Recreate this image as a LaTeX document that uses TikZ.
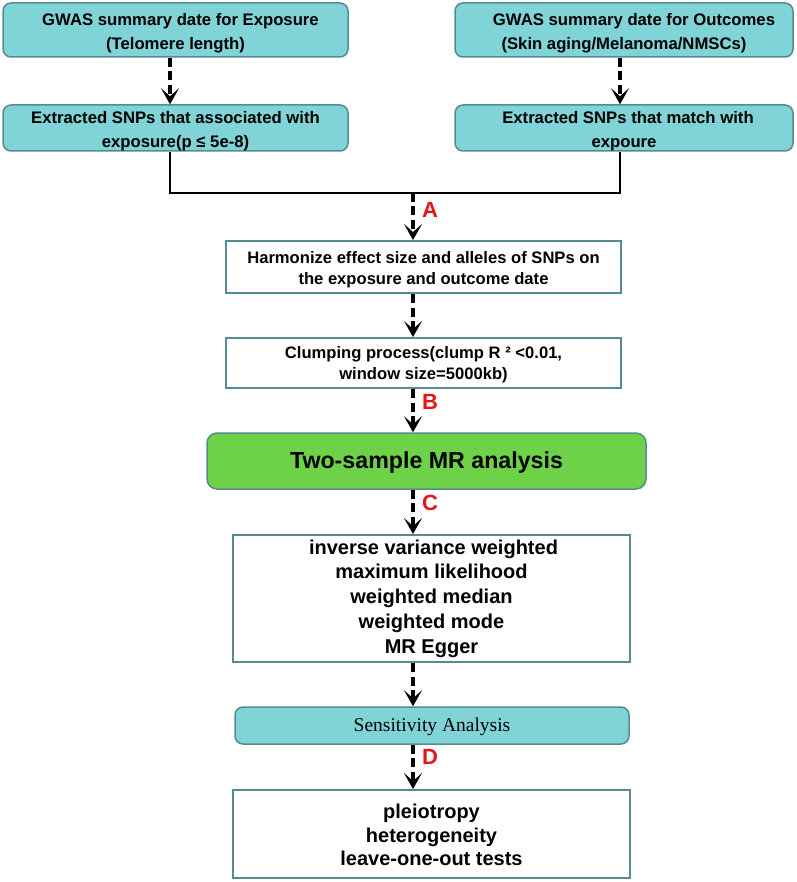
\documentclass[tikz,border=0pt]{standalone}
\usepackage{fontspec}
\setmainfont{Liberation Sans}
\newfontfamily\serifx{Liberation Serif}
\usetikzlibrary{arrows.meta}
\definecolor{tealfill}{RGB}{128,211,214}
\definecolor{tealline}{RGB}{84,140,146}
\definecolor{greenfill}{RGB}{110,210,72}
\definecolor{labred}{RGB}{230,20,20}
\newcommand{\tstrut}{\rule{0pt}{18.5pt}}
\tikzset{
  tealbox/.style={draw=tealline, line width=1.5pt, fill=tealfill, rounded corners=8pt, align=center, font=\bfseries\fontsize{16.7}{24}\selectfont, inner sep=0pt},
  whitebox/.style={draw=tealline, line width=2pt, fill=white, align=center, inner sep=0pt},
  greenbox/.style={draw=tealline, line width=1.5pt, fill=greenfill, rounded corners=10pt, align=center, font=\bfseries\fontsize{23.2}{28}\selectfont, inner sep=0pt},
  darrow/.style={line width=3.2pt, dash pattern=on 9pt off 4.5pt, -{Stealth[length=16pt,width=18pt,inset=8pt]}},
  solidline/.style={line width=2.5pt},
  lab/.style={text=labred, font=\bfseries\fontsize{22}{22}\selectfont, inner sep=0pt}
}
\begin{document}
\begin{tikzpicture}[x=1pt,y=-1pt]
\useasboundingbox (0,0) rectangle (796,882);
\node[tealbox, minimum width=345pt, minimum height=54pt] (b1) at (175.5,30) {\tstrut\hspace*{10pt}GWAS summary date for Exposure\\(Telomere length)};
\node[tealbox, minimum width=345pt, minimum height=46pt] (b2) at (175.5,128) {\tstrut Extracted SNPs that associated with\\exposure(p ≤ 5e-8)};
\node[tealbox, minimum width=338pt, minimum height=54pt] (b3) at (624,30) {\tstrut\hspace*{20pt}GWAS summary date for Outcomes\\(Skin aging/Melanoma/NMSCs)};
\node[tealbox, minimum width=338pt, minimum height=46pt] (b4) at (624,128) {\tstrut\hspace*{8pt}Extracted SNPs that match with\\expoure};
\node[whitebox, minimum width=395pt, minimum height=52pt, font=\bfseries\fontsize{16.6}{21}\selectfont] (b5) at (423.5,267) {\rule{0pt}{17pt}Harmonize effect size and alleles of SNPs on\\the exposure and outcome date};
\node[whitebox, minimum width=395pt, minimum height=50pt, font=\bfseries\fontsize{16.6}{21}\selectfont] (b6) at (423.5,363) {\rule{0pt}{16pt}Clumping process(clump R ² <0.01,\\window size=5000kb)};
\node[greenbox, minimum width=439pt, minimum height=56pt] (b7) at (426.5,461) {\rule{0pt}{20pt}Two-sample MR analysis};
\node[whitebox, minimum width=397pt, minimum height=127pt, font=\bfseries\fontsize{20}{24.8}\selectfont] (b8) at (431.5,598.5) {\hspace*{4pt}inverse variance weighted\\maximum likelihood\\weighted median\\weighted mode\\MR Egger};
\node[tealbox, minimum width=394pt, minimum height=37pt, font=\serifx\fontsize{19.5}{22}\selectfont] (b9) at (432,725.5) {\rule{0pt}{17pt}Sensitivity Analysis};
\node[whitebox, minimum width=397pt, minimum height=88pt, font=\bfseries\fontsize{20}{23.5}\selectfont] (b10) at (431.5,834) {\rule{0pt}{17pt}pleiotropy\\heterogeneity\\leave-one-out tests};
% arrow x positions
\coordinate (xl) at (170,0);
\coordinate (xr) at (620,0);
\coordinate (xm) at (413,0);
\coordinate (j) at (413,193);
\draw[darrow] (b1.south -| xl) -- (b2.north -| xl);
\draw[darrow] (b3.south -| xr) -- (b4.north -| xr);
\draw[solidline] (b2.south -| xl) |- (j) -| (b4.south -| xr);
\draw[darrow] (j) -- (b5.north -| xm);
\draw[darrow] (b5.south -| xm) -- (b6.north -| xm);
\draw[darrow] (b6.south -| xm) -- (b7.north -| xm);
\draw[darrow] (b7.south -| xm) -- (b8.north -| xm);
\draw[darrow] (b8.south -| xm) -- (b9.north -| xm);
\draw[darrow] (b9.south -| xm) -- (b10.north -| xm);
\node[lab] (la) at (430,210) {A};
\node[lab] (lb) at (430,402) {B};
\node[lab] (lc) at (430,503) {C};
\node[lab] (ld) at (430,757) {D};
\end{tikzpicture}
\end{document}
